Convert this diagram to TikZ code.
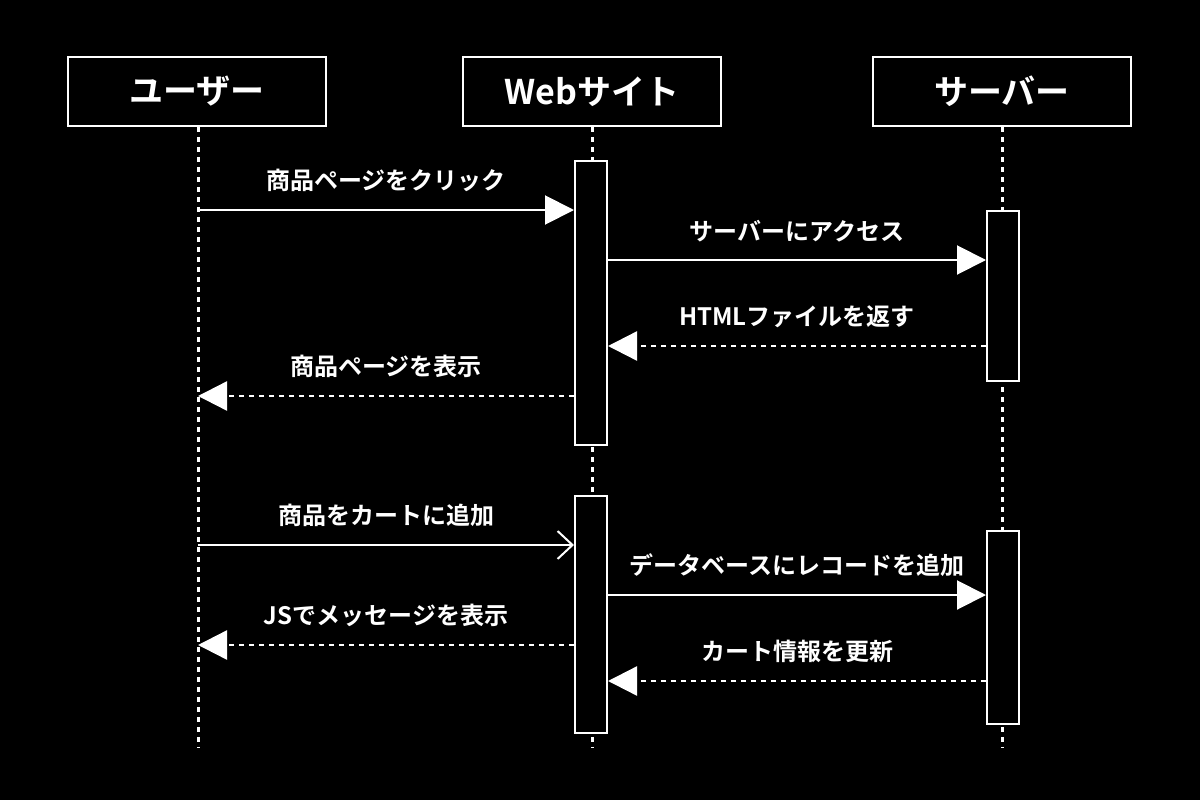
\documentclass[tikz,border=0pt]{standalone}
\usepackage{fontspec}
\setmainfont{Noto Sans CJK JP}[BoldFont={* Bold}]
\usetikzlibrary{arrows.meta}
\begin{document}
\begin{tikzpicture}[x=1pt,y=-1pt,
  actor/.style={draw=white,line width=1.6pt,fill=black,minimum width=258pt,minimum height=69pt,inner sep=0pt,text=white,font=\fontsize{34}{40}\selectfont\bfseries},
  life/.style={draw=white,line width=3pt,dash pattern=on 5pt off 5pt},
  bar/.style={draw=white,line width=2pt,fill=black,minimum width=32pt,inner sep=0pt},
  msg/.style={draw=white,line width=2pt,-{Triangle[length=29pt,width=29pt]}},
  amsg/.style={draw=white,line width=2pt,-{Straight Barb[length=15pt,width=28pt,line width=2pt]}},
  rmsg/.style={msg,line width=2.4pt,dash pattern=on 5pt off 5pt},
  lbl/.style={text=white,font=\fontsize{24}{28}\selectfont\bfseries,inner sep=0pt},
]
\useasboundingbox[fill=black] (0,0) rectangle (1200,800);
\node[actor] (u) at (197,91.5) {ユーザー};
\node[actor] (w) at (592,91.5) {Webサイト};
\node[actor] (s) at (1002,91.5) {サーバー};
\coordinate (ue) at (198,748);
\coordinate (we) at (592,748);
\coordinate (se) at (1002,748);
\draw[life] (u.south -| 198,0) -- (ue);
\draw[life] (w.south) -- (we);
\draw[life] (s.south) -- (se);
% activation bars
\node[bar,minimum height=284pt] (w1) at (591,303) {};
\node[bar,minimum height=237pt] (w2) at (591,614.5) {};
\node[bar,minimum height=170pt] (s1) at (1003,296) {};
\node[bar,minimum height=193pt] (s2) at (1003,627.5) {};
% message endpoints on user lifeline
\coordinate (u1) at (198,210);
\coordinate (u4) at (198,396);
\coordinate (u5) at (198,545);
\coordinate (u7) at (198,645);
% messages
\draw[msg] (u1) -- (w1.west |- u1) node[lbl,midway,above=17pt] {商品ページをクリック};
\draw[msg] (w1.east |- 0,260) -- (s1.west |- 0,260) node[lbl,midway,above=17pt] {サーバーにアクセス};
\draw[rmsg] (s1.west |- 0,346) -- (w1.east |- 0,346) node[lbl,midway,above=17pt] {HTMLファイルを返す};
\draw[rmsg] (w1.west |- u4) -- (u4) node[lbl,midway,above=17pt] {商品ページを表示};
\draw[amsg] (u5) -- (w2.west |- u5) node[lbl,midway,above=17pt] {商品をカートに追加};
\draw[msg] (w2.east |- 0,595) -- (s2.west |- 0,595) node[lbl,midway,above=17pt] {データベースにレコードを追加};
\draw[rmsg] (w2.west |- u7) -- (u7) node[lbl,midway,above=17pt] {JSでメッセージを表示};
\draw[rmsg] (s2.west |- 0,681) -- (w2.east |- 0,681) node[lbl,midway,above=17pt] {カート情報を更新};
\end{tikzpicture}
\end{document}
